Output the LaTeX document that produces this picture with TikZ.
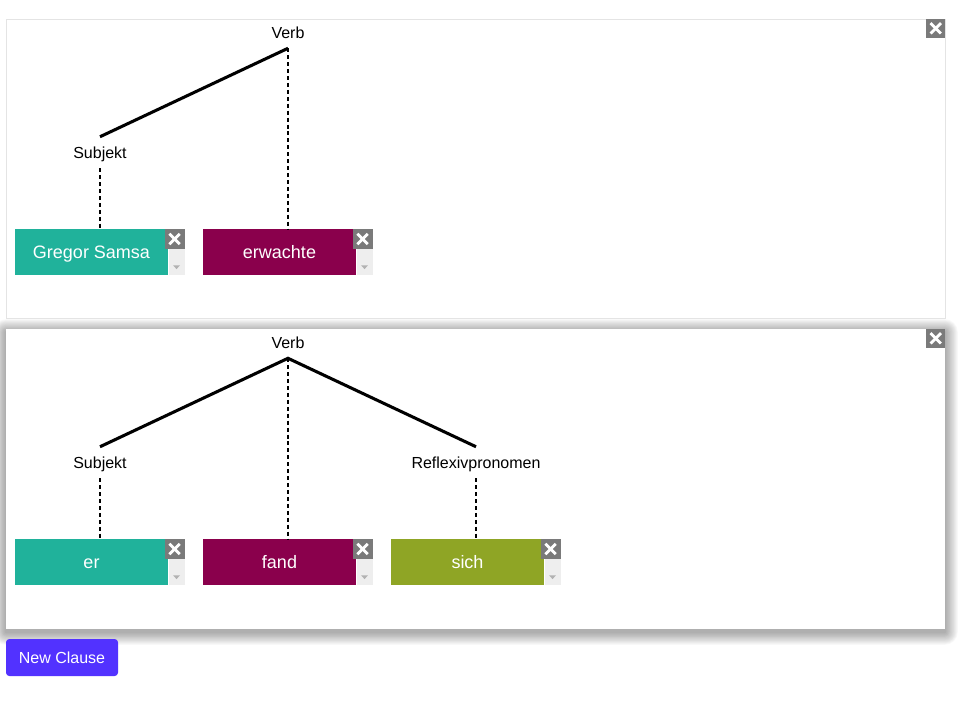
\documentclass[tikz,border=0pt]{standalone}
\usepackage{fontspec}
\setmainfont{Liberation Sans}
\usetikzlibrary{positioning}

\definecolor{subjteal}{HTML}{20B29B}
\definecolor{verbmag}{HTML}{8A004C}
\definecolor{reflolive}{HTML}{8FA525}
\definecolor{btnblue}{HTML}{5232FF}
\definecolor{xgray}{HTML}{7A7A7A}
\definecolor{stripgray}{HTML}{EEEEEE}
\definecolor{panelline}{HTML}{E4E4E4}

\tikzset{
  panel/.style={draw=panelline, line width=0.75pt, fill=white, inner sep=0pt},
  lbl/.style={font=\fontsize{12}{14}\selectfont, inner sep=0pt, text height=9.4pt,
    text depth=0.2pt, minimum height=23.25pt},
  branch/.style={line width=2.3pt},
  slot/.style={line width=1.4pt, dash pattern=on 3pt off 2.2pt},
  word/.style={minimum width=114.75pt, minimum height=34.5pt, inner sep=0pt,
    text height=10.5pt, text depth=0.5pt, text=white, font=\fontsize{13.5}{16}\selectfont},
  strip/.style={fill=stripgray, minimum width=12pt, minimum height=34.5pt,
    inner sep=0pt, anchor=west},
  xbtn/.style={fill=xgray, minimum size=15pt, inner sep=0pt, anchor=north east,
    path picture={
      \draw[white,line width=2.1pt]
        ([shift={(-3.9pt,-3.9pt)}]path picture bounding box.center) --
        ([shift={(3.9pt,3.9pt)}]path picture bounding box.center);
      \draw[white,line width=2.1pt]
        ([shift={(-3.9pt,3.9pt)}]path picture bounding box.center) --
        ([shift={(3.9pt,-3.9pt)}]path picture bounding box.center);}},
  btn/.style={fill=btnblue, text=white, rounded corners=2.5pt, minimum width=84pt,
    minimum height=27.75pt, inner sep=0pt, text height=9.4pt, text depth=0.2pt,
    font=\fontsize{12}{14}\selectfont},
}

\begin{document}
\begin{tikzpicture}[x=0.75pt,y=-0.75pt]
  \useasboundingbox (0,0) rectangle (963,719);

  % first clause
  \node[panel, minimum width=704.25pt, minimum height=224.25pt] (clauseA) at (475.5,168.5) {};
  \node[xbtn, minimum size=14.25pt] (closeA) at (clauseA.north east) {};

  % second clause, with its shadow
  \foreach \s in {1,...,16}
    \fill[black, opacity=0.022, rounded corners=\s*0.6pt] (6-\s*0.8,332-\s*0.8) rectangle (945+\s*0.8,632+\s*0.8);
  \node[panel, draw=none, minimum width=704.25pt, minimum height=225pt] (clauseB) at (475.5,479) {};
  \node[xbtn, minimum size=14.25pt] (closeB) at (clauseB.north east) {};

  % word boxes
  \foreach \nm/\cx/\cy/\col/\txt in {gregor/91.5/252/subjteal/Gregor Samsa,
      erwachte/279.5/252/verbmag/erwachte, er/91.5/562/subjteal/er,
      fand/279.5/562/verbmag/fand, sich/467.5/562/reflolive/sich}{
    \node[word, fill=\col] (\nm) at (\cx,\cy) {\txt};
    \node[strip] (\nm-s) at (\nm.east) {};
    \node[xbtn] (\nm-x) at (\nm-s.north east) {};
    \fill[black!30] ([shift={(-2.6pt,7.5pt)}]\nm-s.south) -- ([shift={(2.6pt,7.5pt)}]\nm-s.south)
      -- ([shift={(0pt,4.6pt)}]\nm-s.south) -- cycle;
  }

  % tree of the first clause
  \node[lbl] (verbA) at (288,32.5) {Verb};
  \node[lbl] (subjA) at (100,152.5) {Subjekt};
  \draw[branch] (verbA.south) -- (subjA.north);
  \draw[slot] (verbA.south) -- (verbA.south |- erwachte.north);
  \draw[slot] (subjA.south) -- (subjA.south |- gregor.north);

  % tree of the second clause
  \node[lbl] (verbB) at (288,342.5) {Verb};
  \node[lbl] (subjB) at (100,462.5) {Subjekt};
  \node[lbl] (reflB) at (476,462.5) {Reflexivpronomen};
  \draw[branch] (subjB.north) -- (verbB.south) -- (reflB.north);
  \draw[slot] (verbB.south) -- (verbB.south |- fand.north);
  \draw[slot] (subjB.south) -- (subjB.south |- er.north);
  \draw[slot] (reflB.south) -- (reflB.south |- sich.north);

  \node[btn] (newclause) at (62,657.5) {New Clause};
\end{tikzpicture}
\end{document}
